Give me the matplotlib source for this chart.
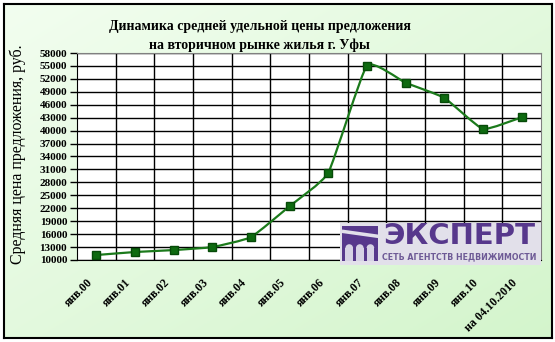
import numpy as np
import matplotlib.pyplot as plt
from matplotlib.path import Path
from matplotlib.patches import PathPatch, Rectangle, Wedge
from matplotlib.transforms import ScaledTranslation

# данные с графика
periods = ['янв.00', 'янв.01', 'янв.02', 'янв.03', 'янв.04', 'янв.05', 'янв.06',
           'янв.07', 'янв.08', 'янв.09', 'янв.10', 'на 04.10.2010']
prices = [11150, 11850, 12300, 13000, 15300, 22500, 30250,
          55100, 51100, 47600, 40400, 43100]
y_ticks = list(range(10000, 58001, 3000))

title = 'Динамика средней удельной цены предложения\nна вторичном рынке жилья г. Уфы'
y_label = 'Средняя цена предложения, руб.'

serif = 'Liberation Serif'
green = '#1b7a1b'
purple = '#57388c'

fig = plt.figure(figsize=(5.55, 3.42), dpi=100)
fig.patch.set_facecolor('white')

# фон с градиентом
bg = fig.add_axes([0.007, 0.012, 0.988, 0.976], zorder=0)
gx, gy = np.meshgrid(np.linspace(0, 1, 200), np.linspace(0, 1, 200))
t = (gx + (1 - gy)) / 2
c1 = np.array([0.95, 0.995, 0.94])
c2 = np.array([0.83, 0.96, 0.80])
img = c1[None, None, :] * (1 - t[..., None]) + c2[None, None, :] * t[..., None]
img = img[::-1]
bg.imshow(img, aspect='auto', extent=[0, 1, 0, 1])
bg.set_xlim(0, 1)
bg.set_ylim(0, 1)
bg.set_xticks([])
bg.set_yticks([])
for s in bg.spines.values():
    s.set_linewidth(1.5)
    s.set_color('black')

ax = fig.add_axes([0.1387, 0.2398, 0.836, 0.6052], zorder=2)
ax.set_facecolor('white')
x = np.arange(len(periods))

# слегка сглаженная линия (кривые Безье по точкам)
pts = np.column_stack([x, prices]).astype(float)
verts = [tuple(pts[0])]
codes = [Path.MOVETO]
k = 0.07
for i in range(len(pts) - 1):
    p0 = pts[i - 1] if i > 0 else pts[i]
    p1 = pts[i]
    p2 = pts[i + 1]
    p3 = pts[i + 2] if i + 2 < len(pts) else pts[i + 1]
    verts += [tuple(p1 + (p2 - p0) * k), tuple(p2 - (p3 - p1) * k), tuple(p2)]
    codes += [Path.CURVE4] * 3
ax.add_patch(PathPatch(Path(verts, codes), facecolor='none', edgecolor=green,
                       lw=1.6, zorder=4))
ax.plot(x, prices, linestyle='none', marker='s', markersize=6,
        markerfacecolor='#0e6a10', markeredgecolor='#064a08', zorder=5)

ax.set_xlim(-0.5, len(periods) - 0.5)
ax.set_ylim(10000, 58000)
ax.set_yticks(y_ticks)
ax.set_yticklabels([str(v) for v in y_ticks], fontfamily=serif,
                   fontweight='bold', fontsize=8)
ax.tick_params(axis='y', length=5, width=1, pad=2)
ax.set_xticks(x)
ax.set_xticklabels(periods, rotation=45, ha='right', va='center',
                   rotation_mode='anchor', fontfamily=serif,
                   fontweight='bold', fontsize=8.5)
ax.tick_params(axis='x', length=0, pad=15)
shift = ScaledTranslation(-4 / 72, 0, fig.dpi_scale_trans)
for lbl in ax.get_xticklabels():
    lbl.set_transform(lbl.get_transform() + shift)
ax.set_xticks(np.arange(0.5, len(periods) - 0.5), minor=True)
ax.tick_params(axis='x', which='minor', length=0)
ax.grid(True, axis='y', color='black', lw=1)
ax.grid(True, axis='x', which='minor', color='black', lw=1)
ax.set_axisbelow(True)
for side in ['top', 'right']:
    ax.spines[side].set_color('#808080')
for side in ['left', 'bottom']:
    ax.spines[side].set_color('black')

fig.text(0.468, 0.895, title, ha='center', va='center', fontfamily=serif,
         fontweight='bold', fontsize=10, linespacing=1.45)
fig.text(0.032, 0.55, y_label, rotation=90, ha='center', va='center',
         fontfamily=serif, fontsize=11.5)

# логотип
lg = fig.add_axes([0.612, 0.225, 0.363, 0.123], zorder=6)
lg.set_xlim(0, 200)
lg.set_ylim(0, 42)
lg.axis('off')
lg.add_patch(Rectangle((0, 0), 200, 42, facecolor='#e2e0ea', edgecolor='none'))
lg.add_patch(Rectangle((2, 4), 36, 35, facecolor=purple, edgecolor='none'))
lg.add_patch(Rectangle((2, 32), 37, 3.5, facecolor='#e2e0ea', edgecolor='none', angle=-8))
for cx in [9.5, 20, 30.5]:
    lg.add_patch(Rectangle((cx - 3.8, 4), 7.6, 13, facecolor='#d6d2e4', edgecolor='none'))
    lg.add_patch(Wedge((cx, 17), 3.8, 0, 180, facecolor='#d6d2e4', edgecolor='none'))
lg.text(119, 29, 'ЭКСПЕРТ', ha='center', va='center', fontfamily='DejaVu Sans',
        fontweight='bold', fontsize=21, color=purple)
lg.text(119, 8, 'СЕТЬ АГЕНТСТВ НЕДВИЖИМОСТИ', ha='center', va='center',
        fontfamily='DejaVu Sans', fontweight='bold', fontsize=5.7, color='#6e5a96')

fig.savefig('out.png', dpi=100)
